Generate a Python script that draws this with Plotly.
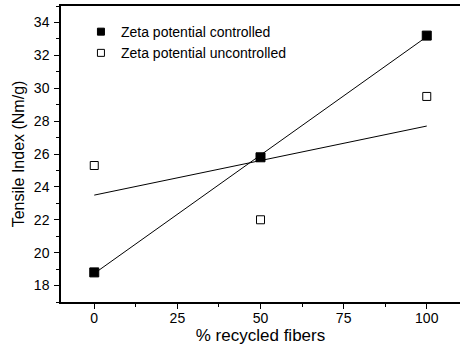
import numpy as np
import plotly.graph_objects as go

recycled = [0, 50, 100]
controlled = [18.8, 25.8, 33.2]
uncontrolled = [25.3, 22.0, 29.5]
x_ticks = [0, 25, 50, 75, 100]
y_ticks = [18, 20, 22, 24, 26, 28, 30, 32, 34]
series_names = ["Zeta potential controlled", "Zeta potential uncontrolled"]

FONT = "Arial, Liberation Sans, sans-serif"

fig = go.Figure()

xs = np.array(recycled, dtype=float)
for ys in (controlled, uncontrolled):
    m, b = np.polyfit(xs, np.array(ys, dtype=float), 1)
    fig.add_trace(go.Scatter(x=xs, y=m * xs + b, mode="lines",
                             line=dict(color="black", width=1),
                             showlegend=False, hoverinfo="skip"))

fig.add_trace(go.Scatter(x=recycled, y=controlled, mode="markers",
                         name=series_names[0], showlegend=False,
                         marker=dict(symbol="square", size=9, color="black",
                                     line=dict(color="black", width=1))))
fig.add_trace(go.Scatter(x=recycled, y=uncontrolled, mode="markers",
                         name=series_names[1], showlegend=False,
                         marker=dict(symbol="square-open", size=8, color="black",
                                     line=dict(color="black", width=1))))

# legend entries (smaller symbols as in the reference)
fig.add_trace(go.Scatter(x=[None], y=[None], mode="markers", name=series_names[0],
                         marker=dict(symbol="square", size=7, color="black",
                                     line=dict(color="black", width=1))))
fig.add_trace(go.Scatter(x=[None], y=[None], mode="markers", name=series_names[1],
                         marker=dict(symbol="square-open", size=7, color="black",
                                     line=dict(color="black", width=1))))

fig.update_layout(
    width=460, height=348,
    margin=dict(l=61, r=0, t=6, b=46),
    paper_bgcolor="white", plot_bgcolor="white",
    font=dict(family=FONT, color="black", size=14),
    showlegend=True,
    legend=dict(x=0.05, y=0.966, xanchor="left", yanchor="top",
                bgcolor="rgba(0,0,0,0)", font=dict(size=14, family=FONT),
                tracegroupgap=0),
    xaxis=dict(range=[-10, 110], tickvals=x_ticks, ticks="outside",
               ticklen=5, tickwidth=1, tickcolor="black",
               minor=dict(dtick=12.5, tick0=0, ticks="outside", ticklen=3,
                          tickcolor="black", tickwidth=1),
               showline=True, linecolor="black", linewidth=1.5, mirror=True,
               showgrid=False, zeroline=False,
               tickfont=dict(size=14), ticklabelstandoff=-3,
               title=dict(text="% recycled fibers", font=dict(size=17), standoff=0)),
    yaxis=dict(range=[17, 35], tickvals=y_ticks, ticks="outside",
               ticklen=5, tickwidth=1, tickcolor="black",
               minor=dict(dtick=1, tick0=17, ticks="outside", ticklen=3,
                          tickcolor="black", tickwidth=1),
               showline=True, linecolor="black", linewidth=1.5,
               showgrid=False, zeroline=False,
               tickfont=dict(size=14), ticklabelstandoff=2,
               title=dict(text="Tensile Index (Nm/g)", font=dict(size=16), standoff=5)),
)

fig.write_html("out.html", config={"displayModeBar": False},
               post_script="document.body.style.margin='0';document.body.style.overflow='hidden';")
